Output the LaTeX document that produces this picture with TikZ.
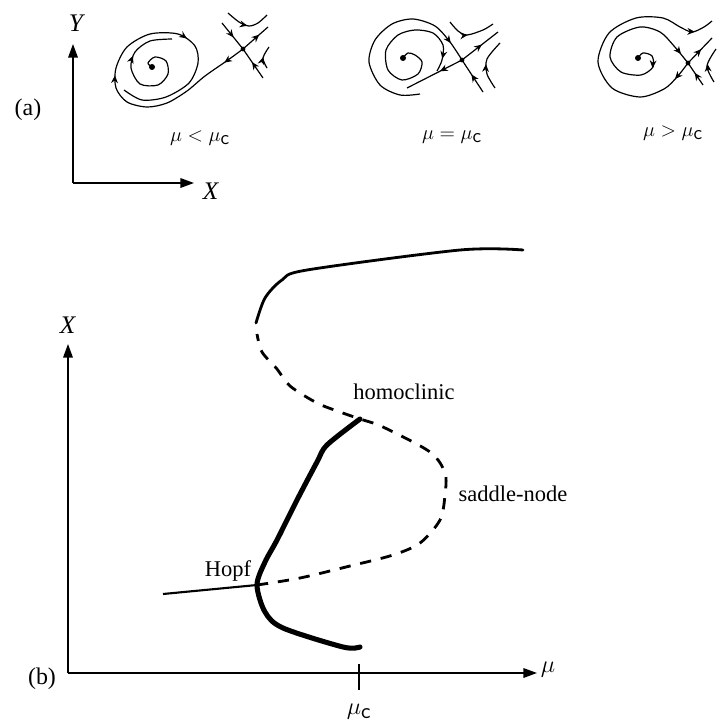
\documentclass[tikz,border=0pt]{standalone}
\usepackage{fontspec}
\setmainfont{Liberation Serif}
\usetikzlibrary{arrows.meta,decorations.markings}

\begin{document}
\begin{tikzpicture}[x=0.25mm,y=-0.25mm,line width=.9pt,
  axisarrow/.style={line width=1pt,-{Triangle[length=3.4mm,width=2.4mm]}},
  orbit/.style={line width=.85pt},
  flow/.style={postaction={decorate,decoration={markings,mark=at position #1 with {\arrow{Stealth[length=1.9mm,width=1.7mm]}}}}},
  flowtip/.style={line width=.85pt,-{Stealth[length=1.9mm,width=1.7mm]}},
  tag/.style={inner sep=1pt,font=\fontsize{16}{18}\selectfont},
  regime/.style={inner sep=1pt,font=\fontsize{14}{16}\selectfont},
  upperbranch/.style={line width=2pt,line cap=round},
  unstablebranch/.style={line width=2pt,dash pattern=on 8pt off 7pt},
  cyclebranch/.style={line width=3.6pt,line cap=round,line join=round}]
\path[use as bounding box] (0,0) rectangle (716,723);
\coordinate (oa) at (73,183);
\draw[axisarrow] (oa) -- (73,44);
\draw[axisarrow] (oa) -- (194,183);
\node[tag,font=\fontsize{18}{20}\selectfont] (ya) at (77,23) {\textit{Y}};
\node[tag,font=\fontsize{18}{20}\selectfont] (xa) at (211,191) {\textit{X}};
\node[tag,font=\fontsize{17}{19}\selectfont] (a) at (28,110) {(a)};
\coordinate (c1) at (152,67);
\coordinate (s1) at (243,49);
\fill (c1) circle (3);
\fill (s1) circle (2.4);
\draw[orbit,flow=.55] (222,23) -- (s1);
\draw[orbit,flow=.55] (263,78) -- (s1);
\draw[orbit,flow=.65] (s1) -- (268,27);
\draw[orbit,flow=.06,flow=.43,flow=.68] plot[smooth] coordinates {(243,49) (228,60) (205,76) (187,91) (167,103) (147,107) (127,102) (116,88) (116,68) (127,47) (150,34) (178,34) (195,46) (198,63) (189,83) (166,97) (142,100) (124,90)};
\draw[orbit,flow=.7] plot[smooth] coordinates {(152,67) (148,63) (155,57) (166,61) (168,74) (158,85) (140,84) (131,68) (135,52) (150,41) (172,39)};
\draw[orbit,flow=.5] plot[smooth] coordinates {(228,13) (239,22) (249,26) (258,23) (267,15)};
\draw[orbit,flow=.5] plot[smooth] coordinates {(267,68) (263,58) (269,47)};
\node[regime] (lt) at (200,138) {$\mu<\mu_{\textsf{c}}$};
\coordinate (c2) at (403,58);
\coordinate (s2) at (462,60);
\fill (c2) circle (3);
\fill (s2) circle (2.4);
\draw[orbit,flow=.55] (483,92) -- (s2);
\draw[orbit,flow=.55] (s2) -- (498,32);
\draw[orbit,flow=.4] (s2) -- (407,88);
\draw[orbit,flow=.9] plot[smooth] coordinates {(420,94) (400,95) (380,85) (369,62) (375,40) (392,24) (413,19) (435,26) (450,42) (462,60)};
\draw[orbit,flow=.93] plot[smooth] coordinates {(403,58) (408,53) (415,55) (422,62) (418,74) (402,80) (388,70) (386,50) (398,35) (415,30) (433,33) (443,45) (442,60) (437,71)};
\draw[orbit,flow=.45] plot[smooth] coordinates {(450,22) (458,31) (467,35) (483,30) (493,24)};
\draw[orbit,flow=.5] plot[smooth] coordinates {(495,88) (487,74) (487,59) (500,43)};
\node[regime] (eq) at (452,137) {$\mu=\mu_{\textsf{c}}$};
\coordinate (c3) at (638,58);
\coordinate (s3) at (688,63);
\fill (c3) circle (3);
\fill (s3) circle (2.4);
\draw[orbit,flow=.55] (703,85) -- (s3);
\draw[orbit,flow=.55] (s3) -- (712,38);
\draw[orbit] plot[smooth] coordinates {(688,63) (677,77) (664,89) (640,97) (612,88) (598,62) (609,33) (636,18) (663,18) (680,27) (692,32) (704,27) (712,21)};
\draw[flowtip] (679,74.5) -- (675,79);
\draw[flowtip] (689,31.5) -- (695,31.8);
\draw[orbit] plot[smooth] coordinates {(638,58) (643,53) (652,56) (653,67) (641,75) (621,72) (610,57) (617,37) (640,27) (660,32) (674,46) (688,63)};
\draw[flowtip] (653,62) -- (652.5,68);
\draw[flowtip] (677,49) -- (681,54);
\draw[orbit] plot[smooth] coordinates {(714,82) (707,66) (716,49)};
\draw[flowtip] (708,70) -- (707.5,64);
\node[regime] (gt) at (673,133) {$\mu>\mu_{\textsf{c}}$};
\coordinate (ob) at (68,673);
\draw[axisarrow] (ob) -- (537,673);
\draw[axisarrow] (ob) -- (68,344);
\node[tag,font=\fontsize{18}{20}\selectfont] (xb) at (68,325) {\textit{X}};
\node[tag] (mu) at (548,670) {$\mu$};
\node[tag,font=\fontsize{17}{19}\selectfont] (b) at (42,679) {(b)};
\coordinate (tick) at (359,673);
\draw[line width=1pt] (359,664) -- (359,690);
\node[tag] (muc) at (359,712) {$\mu_{\textsf{c}}$};
\coordinate (hopf) at (257,585);
\draw[line width=1.5pt] (163,594) -- (hopf);
\draw[cyclebranch] plot[smooth,tension=.5] coordinates {(360,647) (343,647) (283,628) (265,612) (257,585) (265,562) (277,540) (297,500) (317,462) (327,445) (360,419)};
\draw[unstablebranch] plot[smooth] coordinates {(257,585) (300,578) (350,566) (393,555) (420,543) (440,520) (445,495) (445,473) (430,452) (383,427) (360,419) (340,412) (317,403) (290,386) (277,369) (262,352) (257,334)};
\draw[upperbranch] plot[smooth,tension=.5] coordinates {(256,323) (265,298) (282,280) (307,270) (460,250) (523,250)};
\node[tag] (homoc) at (404,392) {homoclinic};
\node[tag] (sn) at (513,494) {saddle-node};
\node[tag] (hopflabel) at (228,571) {Hopf};
\end{tikzpicture}
\end{document}
